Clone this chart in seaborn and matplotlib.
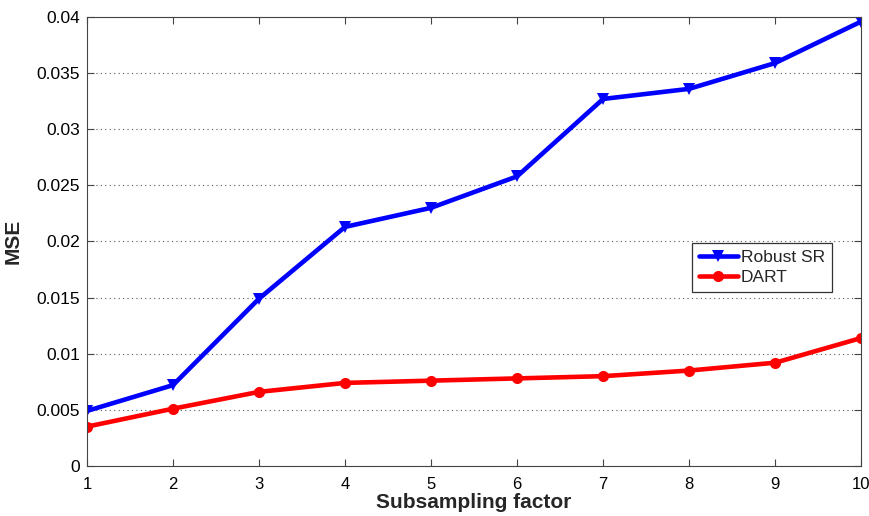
import numpy as np
import pandas as pd
import seaborn as sns
from matplotlib import pyplot as plt

factors = [1, 2, 3, 4, 5, 6, 7, 8, 9, 10]
robust_sr = [0.0049, 0.0072, 0.0149, 0.0213, 0.0230, 0.0258, 0.0327, 0.0336, 0.0359, 0.0396]
dart = [0.0035, 0.0051, 0.0066, 0.0074, 0.0076, 0.0078, 0.0080, 0.0085, 0.0092, 0.0114]

df = pd.DataFrame({
    "factor": factors * 2,
    "mse": robust_sr + dart,
    "method": ["Robust SR"] * len(factors) + ["DART"] * len(factors),
})

sns.set_style("ticks")
plt.rcParams['font.family'] = ['Liberation Sans', 'DejaVu Sans']

fig = plt.figure(figsize=(8.69, 5.16), dpi=100)
ax = fig.add_axes([0.100, 0.097, 0.891, 0.870])

sns.lineplot(data=df, x="factor", y="mse", hue="method", style="method",
             markers={"Robust SR": "v", "DART": "o"}, dashes=False,
             palette={"Robust SR": "#0000ff", "DART": "#ff0000"},
             linewidth=3.3, markersize=8, markeredgewidth=0, ax=ax)

ax.set_xlim(1, 10)
ax.set_ylim(0, 0.04)
ax.set_xticks(np.arange(1, 11))
ax.set_yticks(np.arange(0, 0.0401, 0.005))
ax.set_yticklabels(["0", "0.005", "0.01", "0.015", "0.02", "0.025", "0.03", "0.035", "0.04"])
ax.yaxis.grid(True, linestyle=(0, (1, 3)), color="#555555", linewidth=0.8)
ax.tick_params(direction="in", length=5, labelsize=12.5, color="#444444",
               labelcolor="black", top=True, right=True, pad=5)
ax.tick_params(axis="x", pad=8, labelsize=12)
for s in ax.spines.values():
    s.set_color("#444444")
    s.set_visible(True)
ax.set_xlabel("Subsampling factor", fontsize=15, fontweight="bold", labelpad=1)
ax.set_ylabel("MSE", fontsize=15, fontweight="bold", labelpad=10)

leg = ax.legend(loc="lower left", bbox_to_anchor=(0.782, 0.387), fontsize=12.5,
                frameon=True, fancybox=False, edgecolor="black",
                handlelength=2.2, borderpad=0.4, labelspacing=0.3,
                handletextpad=0.2, borderaxespad=0)
leg.get_frame().set_linewidth(0.9)
leg.set_title(None)

fig.savefig("out.png", dpi=100)
